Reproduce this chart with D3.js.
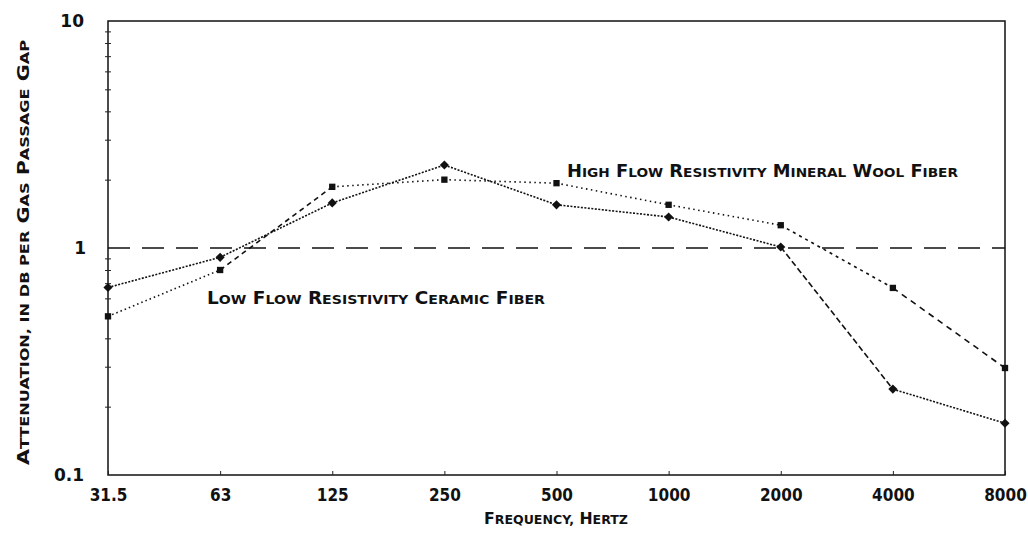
<!DOCTYPE html>
<html>
<head>
<meta charset="utf-8">
<script src="https://cdn.jsdelivr.net/npm/d3@7"></script>
<style>
  body { margin: 0; background: #fff; }
  text { font-family: "DejaVu Sans", sans-serif; font-weight: bold; fill: #111; }
</style>
</head>
<body>
<script>
const frequencies = ["31.5", "63", "125", "250", "500", "1000", "2000", "4000", "8000"];
const ceramic = [0.67, 0.91, 1.58, 2.32, 1.55, 1.37, 1.01, 0.239, 0.169];
const mineralWool = [0.50, 0.80, 1.86, 2.0, 1.93, 1.55, 1.26, 0.667, 0.296];
const yTickLabels = [0.1, 1, 10];
const referenceLevel = 1;

// per-segment dash patterns, copied from the scanned plot
const ceramicDash = ["2,1.5", "2,1.5", "2,1.5", "2,1.5", "2,1.5", "2,1.5", "6,3", "2,1.5"];
const woolDash = ["1.5,3", "5,4", "1.5,3.5", "1.5,3.5", "1.5,3.5", "1.5,3.5", "3,4", "6,5"];

const W = 1028, H = 543;
const m = { left: 108, right: 23, top: 21, bottom: 68 };

const svg = d3.select("body").append("svg")
  .attr("width", W)
  .attr("height", H);

const x = d3.scalePoint().domain(frequencies).range([m.left, W - m.right]);
const y = d3.scaleLog().domain([0.1, 10]).range([H - m.bottom, m.top]);

// hand-lettered small caps: first letter of each word big, rest smaller capitals
function smallCaps(sel, str, big, small, len) {
  str.split(" ").forEach((w, i) => {
    const word = (i > 0 ? " " : "") + w;
    const lead = i > 0 ? 2 : 1;
    const head = word.slice(0, lead);
    const rest = word.slice(lead);
    const bigHead = /[A-Z]/.test(head.trim());
    sel.append("tspan").attr("font-size", bigHead ? big : small).text(head.toUpperCase());
    if (rest) sel.append("tspan").attr("font-size", small).text(rest.toUpperCase());
  });
  if (len) sel.attr("textLength", len).attr("lengthAdjust", "spacingAndGlyphs");
  return sel;
}

// frame
svg.append("rect")
  .attr("x", m.left).attr("y", m.top)
  .attr("width", W - m.left - m.right).attr("height", H - m.top - m.bottom)
  .attr("fill", "none").attr("stroke", "#111").attr("stroke-width", 1.5);

// left axis with log minor ticks
const minor = [];
[0.1, 1].forEach(d => { for (let k = 2; k <= 9; k++) minor.push(d * k); });
svg.append("g")
  .attr("transform", `translate(${m.left},0)`)
  .call(d3.axisLeft(y).tickValues(minor).tickSize(-6).tickSizeOuter(0).tickFormat(""))
  .call(g => g.select(".domain").remove())
  .call(g => g.selectAll("line").attr("stroke", "#222").attr("stroke-width", 1).attr("transform", "translate(-3,0)"));

svg.append("g")
  .selectAll("text")
  .data(yTickLabels)
  .enter().append("text")
  .attr("x", d => d === 1 ? m.left - 22 : m.left - 24)
  .attr("y", d => y(d) + 6)
  .attr("text-anchor", "end")
  .attr("font-size", 17)
  .text(d => d);

// bottom axis
svg.append("g")
  .attr("transform", `translate(0,${H - m.bottom})`)
  .call(d3.axisBottom(x).tickSize(-4).tickSizeOuter(0))
  .call(g => g.select(".domain").remove())
  .call(g => g.selectAll("line").attr("stroke", "#222"))
  .call(g => g.selectAll("text")
    .attr("y", 14)
    .attr("font-size", 17)
    .style("font-family", "\"DejaVu Sans Condensed\", \"DejaVu Sans\", sans-serif")
    .style("font-weight", "bold")
    .attr("fill", "#111"));

// reference line at 1 dB
svg.append("line")
  .attr("x1", m.left).attr("x2", W - m.right)
  .attr("y1", y(referenceLevel)).attr("y2", y(referenceLevel))
  .attr("stroke", "#111").attr("stroke-width", 1.6)
  .attr("stroke-dasharray", "22,12");

function drawSeries(values, dashes, size, angle) {
  const g = svg.append("g");
  g.selectAll("line")
    .data(values.slice(1))
    .enter().append("line")
    .attr("x1", (d, i) => x(frequencies[i]))
    .attr("y1", (d, i) => y(values[i]))
    .attr("x2", (d, i) => x(frequencies[i + 1]))
    .attr("y2", d => y(d))
    .attr("stroke", "#111")
    .attr("stroke-width", 1.6)
    .attr("stroke-dasharray", (d, i) => dashes[i]);
  g.selectAll("path")
    .data(values)
    .enter().append("path")
    .attr("d", d3.symbol().type(d3.symbolSquare).size(size))
    .attr("transform", (d, i) => `translate(${x(frequencies[i])},${y(d)}) rotate(${angle})`)
    .attr("fill", "#111");
}

drawSeries(mineralWool, woolDash, 40, 0);
drawSeries(ceramic, ceramicDash, 42, 45);

// series labels
smallCaps(svg.append("text").attr("x", 567).attr("y", 177),
  "High Flow Resistivity Mineral Wool Fiber", 17, 13, 391);

smallCaps(svg.append("text").attr("x", 207).attr("y", 304),
  "Low Flow Resistivity Ceramic Fiber", 17, 13, 338);

// axis titles
smallCaps(svg.append("text").attr("x", 484).attr("y", 524),
  "Frequency, Hertz", 15, 12, 144);

smallCaps(svg.append("text").attr("transform", "translate(29,465) rotate(-90)"),
  "Attenuation, in dB per Gas Passage Gap", 16, 12.5, 425);
</script>
</body>
</html>
